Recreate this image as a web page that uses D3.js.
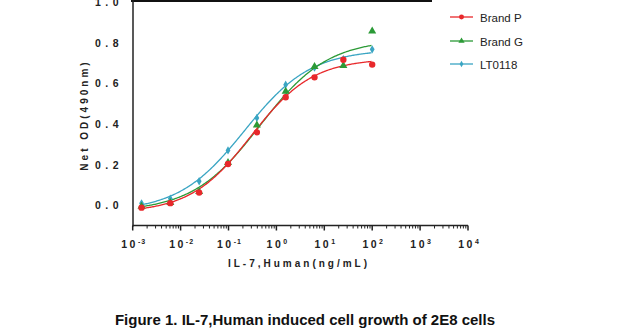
<!DOCTYPE html>
<html>
<head>
<meta charset="utf-8">
<title>IL-7 cell growth</title>
<script src="https://d3js.org/d3.v7.min.js"></script>
<style>
  body { margin: 0; background: #fff; }
  text { font-family: "Liberation Sans", Arial, sans-serif; }
</style>
</head>
<body>
<div id="wrapper"></div>
<script>
// concentrations (ng/mL), 4-fold dilutions
const conc = [0.00153, 0.0061, 0.0244, 0.0977, 0.391, 1.5625, 6.25, 25, 100];
const brandP = [-0.010, 0.012, 0.064, 0.205, 0.361, 0.534, 0.632, 0.719, 0.695];
const brandG = [-0.004, 0.015, 0.068, 0.212, 0.396, 0.563, 0.685, 0.690, 0.860];
const lt0118 = [0.011, 0.034, 0.120, 0.272, 0.432, 0.596, 0.680, 0.722, 0.770];
// 4PL fit parameters: bottom, top, EC50, hill
const fitP = [-0.035, 0.725, 0.30, 0.68];
const fitG = [-0.030, 0.820, 0.456, 0.614];
const fitL = [-0.030, 0.770, 0.217, 0.628];
const seriesNames = ["Brand P", "Brand G", "LT0118"];
const seriesColors = ["#e8282b", "#2b9a36", "#3aa5c3"];
const xTickExp = [-3, -2, -1, 0, 1, 2, 3, 4];
const yTicks = [0.0, 0.2, 0.4, 0.6, 0.8, 1.0];

const width = 618, height = 333;
const svg = d3.select("#wrapper").append("svg").attr("width", width).attr("height", height);

const xScale = d3.scaleLog().domain([1e-3, 1e4]).range([132.7, 468]);
const yScale = d3.scaleLinear().domain([-0.103, 1.0]).range([226.5, 2.7]);

// frame bits
svg.append("line").attr("x1", 131).attr("x2", 432).attr("y1", 1).attr("y2", 1)
  .attr("stroke", "#111").attr("stroke-width", 2);
svg.append("line").attr("x1", 133).attr("x2", 133).attr("y1", 0).attr("y2", 226.5)
  .attr("stroke", "#222").attr("stroke-width", 1.5);

// x axis with minor ticks
const xAxisY = 225.5;
svg.append("line").attr("x1", 132.7).attr("x2", 468).attr("y1", xAxisY).attr("y2", xAxisY)
  .attr("stroke", "#222").attr("stroke-width", 1.5);
const minor = [];
xTickExp.slice(0, -1).forEach(e => {
  for (let k = 2; k <= 9; k++) minor.push(k * Math.pow(10, e));
});
svg.append("g").selectAll("line").data(minor).join("line")
  .attr("x1", d => xScale(d)).attr("x2", d => xScale(d))
  .attr("y1", xAxisY).attr("y2", xAxisY + 3)
  .attr("stroke", "#222").attr("stroke-width", 1);
svg.append("g").selectAll("line").data(xTickExp).join("line")
  .attr("x1", d => xScale(Math.pow(10, d))).attr("x2", d => xScale(Math.pow(10, d)))
  .attr("y1", xAxisY).attr("y2", xAxisY + 5)
  .attr("stroke", "#222").attr("stroke-width", 1.5);
const xl = svg.append("g").selectAll("text").data(xTickExp).join("text")
  .attr("x", d => xScale(Math.pow(10, d)) + 1)
  .attr("y", 248)
  .attr("text-anchor", "middle")
  .style("font-size", "10.5px").style("font-weight", "bold").style("fill", "#222")
  .style("letter-spacing", "2.5px");
xl.append("tspan").text("10");
xl.append("tspan").attr("dy", -4).style("font-size", "7px").style("letter-spacing", "1px").text(d => d);

svg.append("text").attr("x", 299).attr("y", 267).attr("text-anchor", "middle")
  .style("font-size", "10px").style("font-weight", "bold").style("fill", "#222")
  .style("letter-spacing", "3px")
  .text("IL-7,Human(ng/mL)");

// y axis labels
svg.append("g").selectAll("text").data(yTicks).join("text")
  .attr("x", 123).attr("y", d => yScale(d) + 3.5)
  .attr("text-anchor", "end")
  .style("font-size", "10.5px").style("font-weight", "bold").style("fill", "#222")
  .style("letter-spacing", "4.5px")
  .text(d => d.toFixed(1));

svg.append("text").attr("transform", "translate(88,115) rotate(-90)")
  .attr("text-anchor", "middle")
  .style("font-size", "10px").style("font-weight", "bold").style("fill", "#222")
  .style("letter-spacing", "3px")
  .text("Net OD(490nm)");

// fitted curves
const fourPL = (p, x) => p[0] + (p[1] - p[0]) / (1 + Math.pow(p[2] / x, p[3]));
const fits = [fitP, fitG, fitL];
const vals = [brandP, brandG, lt0118];
const xs = d3.range(Math.log10(conc[0]), Math.log10(100) + 0.001, 0.02).map(l => Math.pow(10, l));
const line = d3.line().x(d => xScale(d[0])).y(d => yScale(d[1]));
[2, 1, 0].forEach(i => {
  svg.append("path")
    .attr("d", line(xs.map(x => [x, fourPL(fits[i], x)])))
    .attr("fill", "none").attr("stroke", seriesColors[i]).attr("stroke-width", 1.3);
});

// markers
const symbols = [d3.symbolCircle, d3.symbolTriangle, d3.symbolDiamond];
const sizes = [32, 28, 20];
[2, 1, 0].forEach(i => {
  svg.append("g").selectAll("path").data(conc.map((c, j) => [c, vals[i][j]])).join("path")
    .attr("transform", d => `translate(${xScale(d[0])},${yScale(d[1])})`)
    .attr("d", d3.symbol().type(symbols[i]).size(sizes[i]))
    .attr("fill", seriesColors[i]);
});

// legend
const legendY = [17, 41, 64];
seriesNames.forEach((name, i) => {
  const g = svg.append("g").attr("transform", `translate(450,${legendY[i]})`);
  g.append("line").attr("x1", 0).attr("x2", 23).attr("stroke", seriesColors[i]).attr("stroke-width", 1.3);
  g.append("path").attr("transform", "translate(11.5,0)")
    .attr("d", d3.symbol().type(symbols[i]).size(sizes[i] * 0.6)).attr("fill", seriesColors[i]);
  g.append("text").attr("x", 30).attr("y", 4.5)
    .style("font-size", "11.5px").style("fill", "#222").text(name);
});

// caption
svg.append("text").attr("x", 305).attr("y", 325).attr("text-anchor", "middle")
  .style("font-size", "15px").style("font-weight", "bold").style("fill", "#111")
  .text("Figure 1. IL-7,Human induced cell growth of 2E8 cells");
</script>
</body>
</html>
